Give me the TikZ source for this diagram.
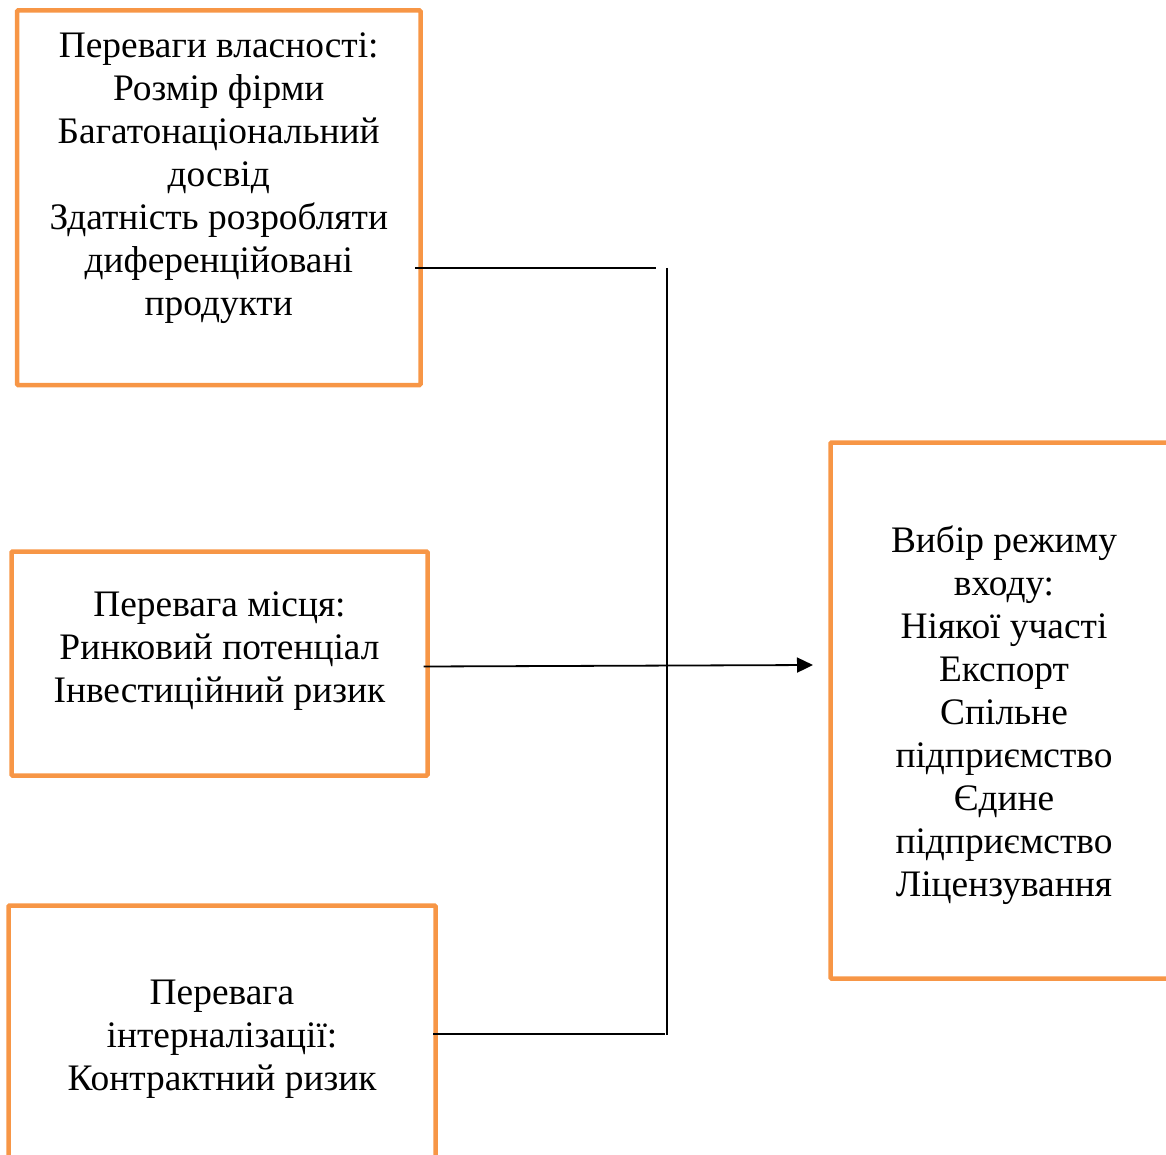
\documentclass[tikz,border=0pt]{standalone}
\usepackage{fontspec}
\setmainfont{Liberation Serif}
\usetikzlibrary{positioning,arrows.meta}

\definecolor{boxorange}{RGB}{247,150,70}

\begin{document}
\begin{tikzpicture}[
    x=1pt, y=-1pt,
    font=\fontsize{37.4}{43}\selectfont,
    box/.style={
        draw=boxorange,
        line width=4.5pt,
        rounded corners=1pt,
        inner sep=0pt,
        outer sep=0pt
    },
    txt/.style={
        align=center,
        inner sep=0pt
    },
    link/.style={
        draw=black,
        line width=1.8pt
    }
]
\useasboundingbox (0,0) rectangle (1166,1155);

% Boxes
\node[box, minimum width=403.5pt, minimum height=374.5pt] (own) at (218.75,197.75) {};
\node[box, minimum width=416pt, minimum height=224pt] (loc) at (219.5,663.5) {};
\node[box, minimum width=427pt, minimum height=274.5pt] (intl) at (222,1042.75) {};
\node[box, minimum width=347pt, minimum height=536pt] (mode) at (1004,710.5) {};

% Texts
\node[txt, below=22pt of own.north] (owntxt) {Переваги власності:\\Розмір фірми\\Багатонаціональний\\досвід\\Здатність розробляти\\диференційовані\\продукти};
\node[txt, below=40pt of loc.north] (loctxt) {Перевага місця:\\Ринковий потенціал\\Інвестиційний ризик};
\node[txt, below=74pt of intl.north] (intltxt) {Перевага\\інтерналізації:\\Контрактний ризик};
\node[txt, below=83pt of mode.north] (modetxt) {Вибір режиму\\входу:\\Ніякої участі\\Експорт\\Спільне\\підприємство\\Єдине\\підприємство\\Ліцензування};

% Junction points
\coordinate (owntip) at (656,268);
\coordinate (bustop) at (667,268);
\coordinate (busbot) at (667,1035);
\coordinate (intltip) at (665,1034);
\coordinate (modetip) at (813,665);

% Arrows
\draw[link] ([xshift=-5.5pt]own.east |- owntip) -- (owntip);
\draw[link] (bustop) -- (busbot);
\draw[link] ([xshift=-2.5pt]intl.east |- intltip) -- (intltip);
\draw[link, -{Triangle[length=16pt,width=15pt]}] ([xshift=-4pt,yshift=-1.5pt]loc.east |- modetip) -- (modetip);

\end{tikzpicture}
\end{document}
